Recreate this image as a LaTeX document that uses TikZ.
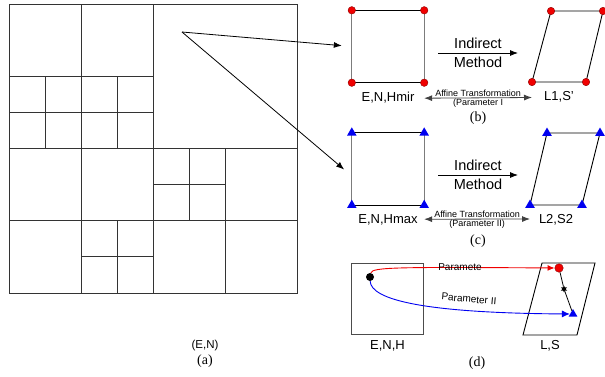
\documentclass[tikz,border=0pt]{standalone}
\usepackage{fontspec}
\setmainfont{Liberation Serif}
\setsansfont{Liberation Sans}
\usetikzlibrary{arrows.meta,positioning,calc,shapes.geometric}
\definecolor{SideGray}{HTML}{7C7C7C}
\definecolor{DotRed}{HTML}{F00000}
\definecolor{TriBlue}{HTML}{0000F0}

\begin{document}
\begin{tikzpicture}[x=1pt, y=-1pt,
    quad/.style={draw=black!80, line width=0.9pt},
    hside/.style={draw=black, line width=0.9pt},
    vside/.style={draw=SideGray, line width=1pt},
    pline/.style={draw=black, line width=0.9pt},
    sq/.style={minimum size=72pt, inner sep=0pt},
    lab/.style={font=\sffamily\fontsize{13}{13}\selectfont, inner sep=1pt},
    bigtxt/.style={font=\sffamily\fontsize{14.5}{15}\selectfont, inner sep=1pt},
    smalltxt/.style={font=\sffamily\fontsize{9}{9}\selectfont, inner sep=0.5pt},
    tinytxt/.style={font=\sffamily\fontsize{10}{10}\selectfont, inner sep=0.5pt},
    captxt/.style={font=\rmfamily\fontsize{14}{14}\selectfont, inner sep=1pt},
    rdot/.style={circle, fill=DotRed, draw=DotRed!60!black, line width=0.4pt, minimum size=7.5pt, inner sep=0pt},
    btri/.style={regular polygon, regular polygon sides=3, fill=TriBlue, minimum size=11pt, inner sep=0pt},
    arr/.style={-{Latex[length=8pt,width=6pt]}, line width=0.8pt},
    darr/.style={{Latex[length=8pt,width=6pt]}-{Latex[length=8pt,width=6pt]}, line width=0.8pt, draw=black!75}]
  \useasboundingbox (0,0) rectangle (605,376);

  % (a) quadtree of the DEM
  \draw[quad] (9,4) rectangle (297,293);
  \foreach \xa/\ya/\xb/\yb in {153/4/153/293, 9/148/297/148, 81/4/81/293, 9/220/297/220,
      225/148/225/293, 9/76/153/76, 9/112/153/112, 45/76/45/148, 117/76/117/148,
      117/220/117/293, 81/256/153/256, 189/148/189/220, 153/184/225/184}
    \draw[quad] (\xa,\ya) -- (\xb,\yb);
  \coordinate (src) at (182,32);
  \node[lab, font=\sffamily\fontsize{11.5}{12}\selectfont] (lblEN) at (205,346) {(E,N)};
  \node[captxt, below=1pt of lblEN] (capA) {(a)};

  % (b)
  \node[sq] (sqb) at (388,46.5) {};
  \draw[hside] (sqb.north west) -- (sqb.north east) (sqb.south west) -- (sqb.south east);
  \draw[vside] (sqb.north west) -- (sqb.south west) (sqb.north east) -- (sqb.south east);
  \coordinate (pb1) at (532,82);
  \coordinate (pb2) at (586,82);
  \coordinate (pb3) at (603,11);
  \coordinate (pb4) at (551,11);
  \draw[pline] (pb1) -- (pb2) -- (pb3) -- (pb4) -- cycle;
  \foreach \c [count=\i] in {sqb.north west, sqb.north east, sqb.south west, sqb.south east, pb1, pb2, pb3, pb4}
    \node[rdot] (mb\i) at (\c) {};
  \coordinate (indb1) at (438,53);
  \coordinate (indb2) at (518,53);
  \draw[arr] (indb1) -- (indb2)
    node[midway, above=3pt, bigtxt] (indbT) {Indirect}
    node[midway, below=3pt, bigtxt] (indbM) {Method};
  \node[lab, below=8pt of sqb] (lbb1) {E,N,Hmir};
  \node[lab, below=8pt of $(pb1)!0.5!(pb2)$] (lbb2) {L1,S’};
  \draw[darr] ([yshift=-15.5pt]sqb.south east) -- ([yshift=-15.5pt]pb1)
    node[midway, above=0.3pt, smalltxt] (affb) {Affine Transformation}
    node[midway, below=0.3pt, smalltxt] (parb) {(Parameter I};
  \node[captxt] (capB) at (478,118) {(b)};

  % (c)
  \node[sq] (sqc) at (388,169) {};
  \draw[hside] (sqc.north west) -- (sqc.north east) (sqc.south west) -- (sqc.south east);
  \draw[vside] (sqc.north west) -- (sqc.south west) (sqc.north east) -- (sqc.south east);
  \coordinate (pc1) at (530,205);
  \coordinate (pc2) at (582,205);
  \coordinate (pc3) at (600,133);
  \coordinate (pc4) at (547,133);
  \draw[pline] (pc1) -- (pc2) -- (pc3) -- (pc4) -- cycle;
  \foreach \c [count=\i] in {sqc.north west, sqc.north east, sqc.south west, sqc.south east, pc1, pc2, pc3, pc4}
    \node[btri] (mc\i) at (\c) {};
  \coordinate (indc1) at (438,175);
  \coordinate (indc2) at (518,175);
  \draw[arr] (indc1) -- (indc2)
    node[midway, above=3pt, bigtxt] (indcT) {Indirect}
    node[midway, below=3pt, bigtxt] (indcM) {Method};
  \node[lab, below=8pt of sqc] (lbc1) {E,N,Hmax};
  \node[lab, below=8pt of $(pc1)!0.5!(pc2)$] (lbc2) {L2,S2};
  \draw[darr] ([yshift=-14pt]sqc.south east) -- ([yshift=-14pt]pc1)
    node[midway, above=0.3pt, smalltxt] (affc) {Affine Transformation}
    node[midway, below=0.3pt, smalltxt] (parc) {(Parameter II)};
  \node[captxt] (capC) at (478,241) {(c)};

  % arrows out of (a)
  \draw[arr, shorten >=10pt] (src) -- (sqb.west);
  \draw[arr, shorten >=10pt] (src) -- ([yshift=-7pt]sqc.west);

  % (d)
  \node[sq, minimum size=71.5pt, draw=black!70, line width=1pt] (sqd) at (387.5,299) {};
  \coordinate (pd1) at (523,335);
  \coordinate (pd2) at (577,335);
  \coordinate (pd3) at (595,263);
  \coordinate (pd4) at (542,263);
  \draw[pline] (pd1) -- (pd2) -- (pd3) -- (pd4) -- cycle;
  \node[lab, below=4pt of sqd] (lbd1) {E,N,H};
  \node[lab, below=4pt of $(pd1)!0.5!(pd2)$] (lbd2) {L,S};
  \node[circle, fill=black, minimum size=8pt, inner sep=0pt] (pt) at (370,277) {};
  \node[rdot, minimum size=8.5pt] (ptr) at (559,268) {};
  \node[btri, minimum size=10pt] (ptb) at (573,314) {};
  \node[star, star points=6, star point ratio=2, fill=black, minimum size=7pt, inner sep=0pt] (pts) at (564,289) {};
  \draw[line width=0.8pt] (ptr) -- (pts) -- (ptb);
  \draw[DotRed, line width=0.9pt, -{Latex[length=7pt,width=6pt]}] (pt) .. controls (372,267) and (400,267) .. (ptr);
  \draw[TriBlue, line width=0.9pt, -{Latex[length=8pt,width=7pt]}] (pt) .. controls (371,300) and (425,313) .. (ptb);
  \node[tinytxt] (parD1) at (460,267) {Paramete};
  \node[tinytxt, rotate=-5] (parD2) at (469,299) {Parameter II};
  \node[captxt] (capD) at (477,363) {(d)};
\end{tikzpicture}
\end{document}
